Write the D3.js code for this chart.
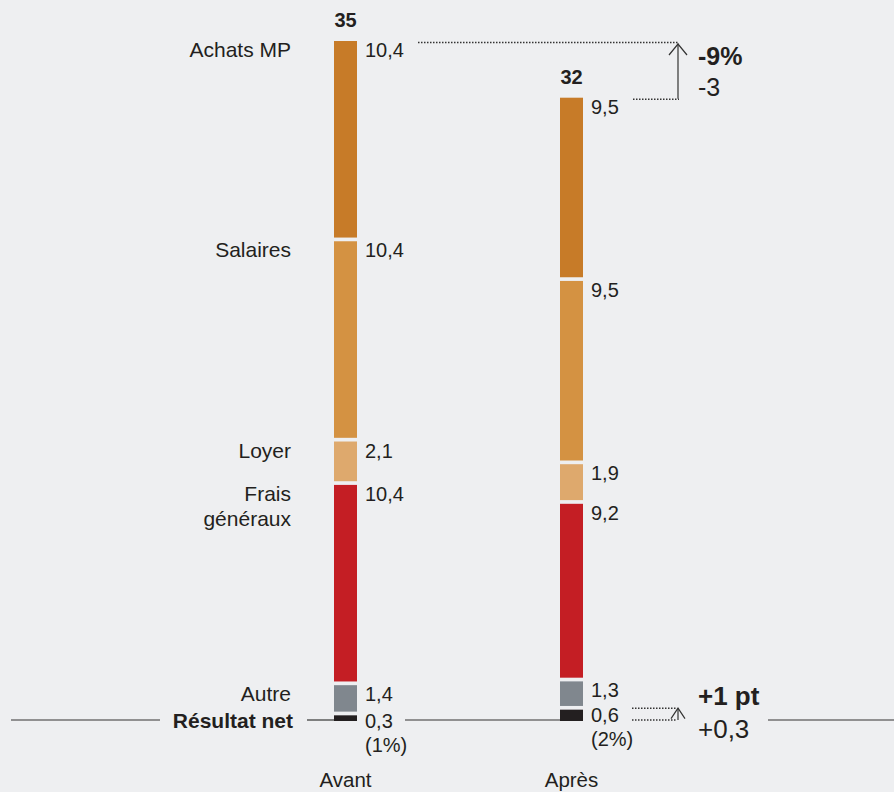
<!DOCTYPE html>
<html>
<head>
<meta charset="utf-8">
<script src="https://cdn.jsdelivr.net/npm/d3@7"></script>
<style>
  html, body { margin: 0; padding: 0; background: #eeeff1; }
  svg { display: block; font-family: "Liberation Sans", Arial, sans-serif; }
</style>
</head>
<body>
<svg id="chart" width="894" height="792"></svg>
<script>
// ---- Data ----
const categories = ["Résultat net", "Autre", "Frais généraux", "Loyer", "Salaires", "Achats MP"];
const categoryLines = [["Résultat net"], ["Autre"], ["Frais", "généraux"], ["Loyer"], ["Salaires"], ["Achats MP"]];
const colors = ["#231f20", "#80878e", "#c41e24", "#dea96d", "#d49242", "#c77b28"];
const periods = ["Avant", "Après"];
const avantValues = [0.3, 1.4, 10.4, 2.1, 10.4, 10.4];
const apresValues = [0.6, 1.3, 9.2, 1.9, 9.5, 9.5];
const totals = ["35", "32"];
const shareLabels = ["(1%)", "(2%)"];
const valueLabels = [
  ["0,3", "1,4", "10,4", "2,1", "10,4", "10,4"],
  ["0,6", "1,3", "9,2", "1,9", "9,5", "9,5"]
];
const totalChange = ["-9%", "-3"];
const resultChange = ["+1 pt", "+0,3"];

// ---- Layout ----
const svg = d3.select("#chart");
const ink = "#231f20";
const base = 721, k = 18.9, gap = 3.7, barW = 23;
const y = d3.scaleLinear().domain([0, 35]).range([base, base - 35 * k]);
const x = d3.scalePoint().domain(periods).range([345.5, 571.5]);

const series = [avantValues, apresValues];
const stacks = series.map(vals => {
  let cum = 0;
  return vals.map((v, i) => {
    const s = { i, v, bottom: y(cum) - gap * i };
    cum += v;
    s.top = y(cum) - gap * i;
    return s;
  });
});

// baseline lines
const lineSegs = [[11, 160], [307, 334], [405, 560], [768, 894]];
svg.selectAll("line.base").data(lineSegs).join("line")
  .attr("x1", d => d[0]).attr("x2", d => d[1])
  .attr("y1", 720).attr("y2", 720)
  .attr("stroke", "#333").attr("stroke-width", 1.2);

// bars
periods.forEach((p, pi) => {
  const cx = x(p);
  const g = svg.append("g");
  g.selectAll("rect").data(stacks[pi]).join("rect")
    .attr("x", cx - barW / 2).attr("width", barW)
    .attr("y", d => d.top).attr("height", d => d.bottom - d.top)
    .attr("fill", d => colors[d.i]);

  // value labels
  g.selectAll("text.val").data(stacks[pi]).join("text")
    .attr("x", cx + barW / 2 + 8)
    .attr("y", d => d.i === 0 ? d.top + 12.5 : d.top + 16)
    .attr("font-size", 20).attr("fill", ink)
    .text(d => valueLabels[pi][d.i]);

  // share label
  g.append("text").attr("x", cx + barW / 2 + 8)
    .attr("y", stacks[pi][0].top + 36.5)
    .attr("font-size", 20).attr("fill", ink).text(shareLabels[pi]);

  // total
  g.append("text").attr("x", cx).attr("y", stacks[pi][5].top - 14)
    .attr("text-anchor", "middle").attr("font-size", 20).attr("font-weight", "bold")
    .attr("fill", ink).text(totals[pi]);

  // period label
  g.append("text").attr("x", cx).attr("y", 787)
    .attr("text-anchor", "middle").attr("font-size", 20.5).attr("fill", ink).text(p);
});

// category labels (left of Avant bar)
stacks[0].forEach(d => {
  const xr = d.i === 0 ? 293 : 291;
  const t = svg.append("text")
    .attr("x", xr)
    .attr("y", d.i === 0 ? d.top + 12.5 : d.top + 16)
    .attr("text-anchor", "end").attr("font-size", 21).attr("fill", ink)
    .attr("font-weight", d.i === 0 ? "bold" : "normal");
  categoryLines[d.i].forEach((ln, li) => {
    t.append("tspan").attr("x", xr).attr("dy", li === 0 ? 0 : 25).text(ln);
  });
});

// ---- Annotations ----
const ann = svg.append("g").attr("stroke", "#333").attr("fill", "none");
const topA = stacks[0][5].top, topB = stacks[1][5].top;
const arrowX = 678;
ann.append("line").attr("x1", 418).attr("x2", arrowX + 1).attr("y1", topA + 1.5).attr("y2", topA + 1.5)
  .attr("stroke-width", 1.5).attr("stroke-dasharray", "1.5,1.5");
ann.append("line").attr("x1", 633).attr("x2", arrowX + 1).attr("y1", topB + 1.5).attr("y2", topB + 1.5)
  .attr("stroke-width", 1.5).attr("stroke-dasharray", "1.5,1.5");
ann.append("line").attr("x1", arrowX).attr("x2", arrowX).attr("y1", topB + 1).attr("y2", topA + 2.5)
  .attr("stroke-width", 1.2);
ann.append("path").attr("d", `M${arrowX - 9},${topA + 14} L${arrowX},${topA + 3} L${arrowX + 9},${topA + 14}`)
  .attr("stroke-width", 1.2);

const rB = stacks[1][0].top;
ann.append("line").attr("x1", 632).attr("x2", arrowX - 1).attr("y1", rB - 1.5).attr("y2", rB - 1.5)
  .attr("stroke-width", 1.5).attr("stroke-dasharray", "1.5,1.5");
ann.append("line").attr("x1", 632).attr("x2", arrowX - 1).attr("y1", 720).attr("y2", 720)
  .attr("stroke-width", 1.5).attr("stroke-dasharray", "1.5,1.5");
ann.append("line").attr("x1", arrowX).attr("x2", arrowX).attr("y1", 720).attr("y2", rB - 1.5)
  .attr("stroke-width", 1.2);
ann.append("path").attr("d", `M${arrowX - 7},${rB + 9} L${arrowX},${rB - 1.5} L${arrowX + 7},${rB + 9}`)
  .attr("stroke-width", 1.2);

svg.append("text").attr("x", 698).attr("y", 65).attr("font-size", 25).attr("font-weight", "bold")
  .attr("fill", ink).text(totalChange[0]);
svg.append("text").attr("x", 698).attr("y", 96).attr("font-size", 25)
  .attr("fill", ink).text(totalChange[1]);
svg.append("text").attr("x", 698).attr("y", 705).attr("font-size", 26).attr("font-weight", "bold")
  .attr("fill", ink).text(resultChange[0]);
svg.append("text").attr("x", 698).attr("y", 738).attr("font-size", 26)
  .attr("fill", ink).text(resultChange[1]);
</script>
</body>
</html>
